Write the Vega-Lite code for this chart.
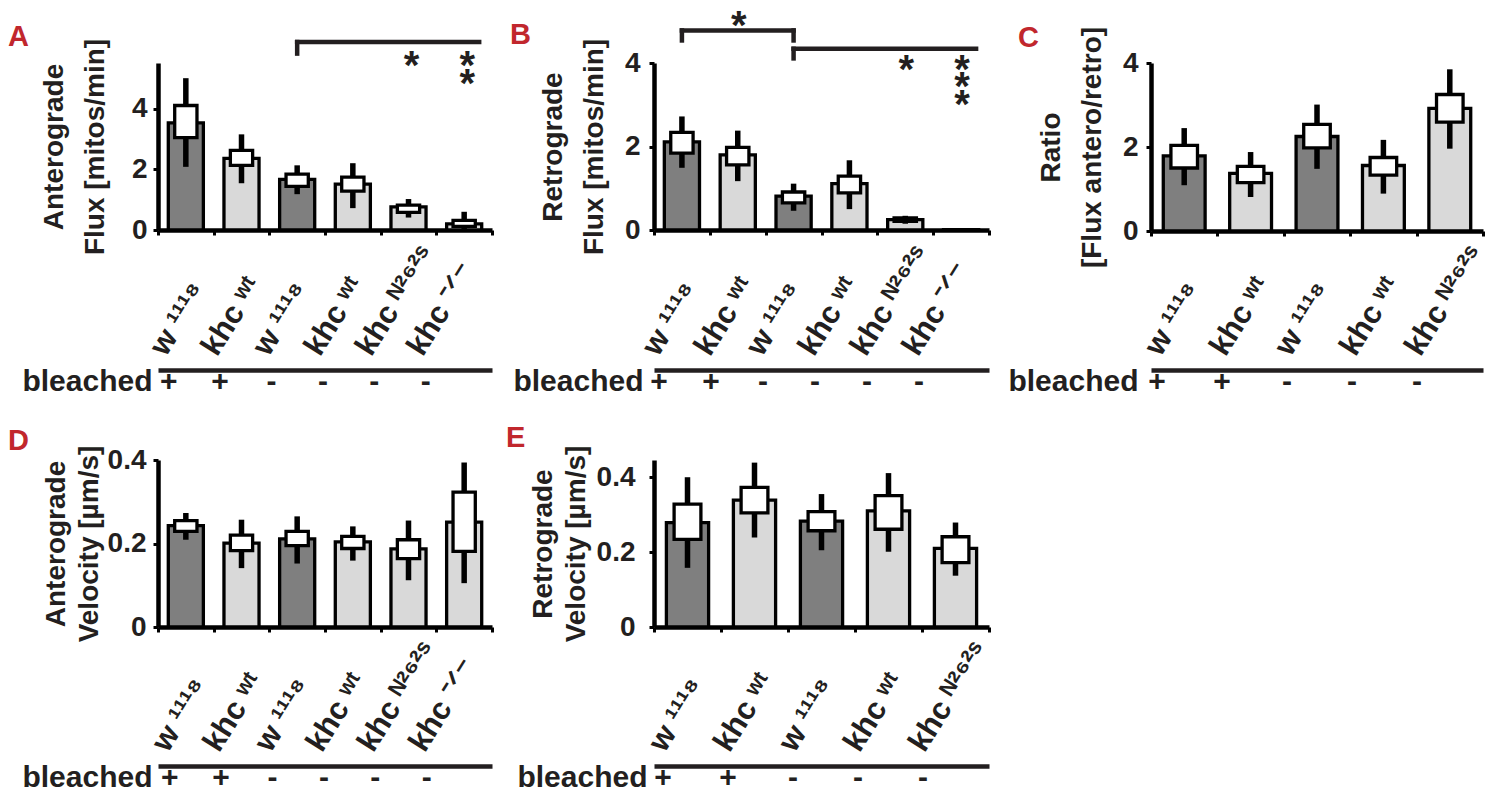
{
  "$schema": "https://vega.github.io/schema/vega-lite/v6.json",
  "background": "white",
  "padding": {"left": 8, "top": 7, "right": 5, "bottom": 0},
  "columns": 3,
  "bounds": "flush",
  "align": "each",
  "spacing": {"row": 60, "column": 162},
  "datasets": {
    "A": [
      {"group": "w ¹¹¹⁸|+", "strain": "w1118", "bleached": "+", "mean": 3.53, "box_lo": 3.04, "box_hi": 4.10, "err_lo": 2.08, "err_hi": 5.00},
      {"group": "khc ʷᵗ|+", "strain": "khc", "bleached": "+", "mean": 2.36, "box_lo": 2.13, "box_hi": 2.62, "err_lo": 1.54, "err_hi": 3.15},
      {"group": "w ¹¹¹⁸|-", "strain": "w1118", "bleached": "-", "mean": 1.67, "box_lo": 1.44, "box_hi": 1.84, "err_lo": 1.18, "err_hi": 2.13},
      {"group": "khc ʷᵗ|-", "strain": "khc", "bleached": "-", "mean": 1.51, "box_lo": 1.28, "box_hi": 1.74, "err_lo": 0.72, "err_hi": 2.20},
      {"group": "khc ᴺ²⁶²ˢ|-", "strain": "khc", "bleached": "-", "mean": 0.76, "box_lo": 0.58, "box_hi": 0.82, "err_lo": 0.41, "err_hi": 1.02},
      {"group": "khc ⁻ᐟ⁻|-", "strain": "khc", "bleached": "-", "mean": 0.20, "box_lo": 0.12, "box_hi": 0.32, "err_lo": 0.00, "err_hi": 0.60}
    ],
    "B": [
      {"group": "w ¹¹¹⁸|+", "strain": "w1118", "bleached": "+", "mean": 2.11, "box_lo": 1.84, "box_hi": 2.34, "err_lo": 1.49, "err_hi": 2.72},
      {"group": "khc ʷᵗ|+", "strain": "khc", "bleached": "+", "mean": 1.80, "box_lo": 1.56, "box_hi": 1.98, "err_lo": 1.17, "err_hi": 2.38},
      {"group": "w ¹¹¹⁸|-", "strain": "w1118", "bleached": "-", "mean": 0.81, "box_lo": 0.65, "box_hi": 0.91, "err_lo": 0.46, "err_hi": 1.11},
      {"group": "khc ʷᵗ|-", "strain": "khc", "bleached": "-", "mean": 1.11, "box_lo": 0.89, "box_hi": 1.29, "err_lo": 0.50, "err_hi": 1.67},
      {"group": "khc ᴺ²⁶²ˢ|-", "strain": "khc", "bleached": "-", "mean": 0.25, "box_lo": 0.21, "box_hi": 0.29, "err_lo": 0.15, "err_hi": 0.34},
      {"group": "khc ⁻ᐟ⁻|-", "strain": "khc", "bleached": "-", "mean": 0.01, "box_lo": null, "box_hi": null, "err_lo": null, "err_hi": null}
    ],
    "C": [
      {"group": "w ¹¹¹⁸|+", "strain": "w1118", "bleached": "+", "mean": 1.79, "box_lo": 1.50, "box_hi": 2.04, "err_lo": 1.09, "err_hi": 2.45},
      {"group": "khc ʷᵗ|+", "strain": "khc", "bleached": "+", "mean": 1.37, "box_lo": 1.15, "box_hi": 1.54, "err_lo": 0.81, "err_hi": 1.88},
      {"group": "w ¹¹¹⁸|-", "strain": "w1118", "bleached": "-", "mean": 2.25, "box_lo": 1.98, "box_hi": 2.54, "err_lo": 1.48, "err_hi": 3.01},
      {"group": "khc ʷᵗ|-", "strain": "khc", "bleached": "-", "mean": 1.56, "box_lo": 1.33, "box_hi": 1.75, "err_lo": 0.89, "err_hi": 2.17},
      {"group": "khc ᴺ²⁶²ˢ|-", "strain": "khc", "bleached": "-", "mean": 2.92, "box_lo": 2.59, "box_hi": 3.25, "err_lo": 1.96, "err_hi": 3.85}
    ],
    "D": [
      {"group": "w ¹¹¹⁸|+", "strain": "w1118", "bleached": "+", "mean": 0.243, "box_lo": 0.229, "box_hi": 0.255, "err_lo": 0.209, "err_hi": 0.273},
      {"group": "khc ʷᵗ|+", "strain": "khc", "bleached": "+", "mean": 0.201, "box_lo": 0.183, "box_hi": 0.220, "err_lo": 0.141, "err_hi": 0.257},
      {"group": "w ¹¹¹⁸|-", "strain": "w1118", "bleached": "-", "mean": 0.211, "box_lo": 0.195, "box_hi": 0.229, "err_lo": 0.152, "err_hi": 0.265},
      {"group": "khc ʷᵗ|-", "strain": "khc", "bleached": "-", "mean": 0.204, "box_lo": 0.188, "box_hi": 0.217, "err_lo": 0.159, "err_hi": 0.241},
      {"group": "khc ᴺ²⁶²ˢ|-", "strain": "khc", "bleached": "-", "mean": 0.187, "box_lo": 0.164, "box_hi": 0.209, "err_lo": 0.112, "err_hi": 0.255},
      {"group": "khc ⁻ᐟ⁻|-", "strain": "khc", "bleached": "-", "mean": 0.251, "box_lo": 0.181, "box_hi": 0.323, "err_lo": 0.105, "err_hi": 0.394}
    ],
    "E": [
      {"group": "w ¹¹¹⁸|+", "strain": "w1118", "bleached": "+", "mean": 0.279, "box_lo": 0.234, "box_hi": 0.328, "err_lo": 0.158, "err_hi": 0.400},
      {"group": "khc ʷᵗ|+", "strain": "khc", "bleached": "+", "mean": 0.339, "box_lo": 0.305, "box_hi": 0.373, "err_lo": 0.239, "err_hi": 0.439},
      {"group": "w ¹¹¹⁸|-", "strain": "w1118", "bleached": "-", "mean": 0.283, "box_lo": 0.257, "box_hi": 0.308, "err_lo": 0.205, "err_hi": 0.355},
      {"group": "khc ʷᵗ|-", "strain": "khc", "bleached": "-", "mean": 0.310, "box_lo": 0.261, "box_hi": 0.351, "err_lo": 0.201, "err_hi": 0.411},
      {"group": "khc ᴺ²⁶²ˢ|-", "strain": "khc", "bleached": "-", "mean": 0.210, "box_lo": 0.172, "box_hi": 0.241, "err_lo": 0.137, "err_hi": 0.279}
    ]
  },
  "concat": [
    {
      "width": 334, "height": 167,
      "title": {"text": "A", "dx": -150, "dy": 18},
      "layer": [
        {
          "data": {"name": "A"},
          "mark": {"type": "bar", "stroke": "#000", "strokeWidth": 3.3, "width": {"band": 0.63}},
          "encoding": {
            "x": {"field": "group", "type": "nominal", "scale": {"type": "band", "domain": ["w ¹¹¹⁸|+", "khc ʷᵗ|+", "w ¹¹¹⁸|-", "khc ʷᵗ|-", "khc ᴺ²⁶²ˢ|-", "khc ⁻ᐟ⁻|-"], "paddingInner": 0, "paddingOuter": 0},
              "axis": {"title": null, "labels": false, "tickBand": "extent"}},
            "y": {"field": "mean", "type": "quantitative", "scale": {"domain": [0, 5.5], "nice": false}, "axis": {"title": ["Anterograde", "Flux [mitos/min]"], "values": [0, 2, 4], "format": "d", "titleLineHeight": 41, "titlePadding": 22, "labelPadding": 6}},
            "color": {"field": "strain", "type": "nominal", "scale": {"domain": ["w1118", "khc"], "range": ["#7f7f7f", "#d9d9d9"]}, "legend": null}
          }
        },
        {
          "data": {"name": "A"},
          "mark": {"type": "rule", "color": "#000", "strokeWidth": 5.5},
          "encoding": {"x": {"field": "group", "type": "nominal"}, "y": {"field": "err_lo", "type": "quantitative"}, "y2": {"field": "err_hi"}}
        },
        {
          "data": {"name": "A"},
          "mark": {"type": "bar", "fill": "#fff", "stroke": "#000", "strokeWidth": 3.3, "width": {"band": 0.4}},
          "encoding": {"x": {"field": "group", "type": "nominal"}, "y": {"field": "box_lo", "type": "quantitative"}, "y2": {"field": "box_hi"}}
        },
        {
          "data": {"values": [{"from": "w ¹¹¹⁸|-", "to": "khc ⁻ᐟ⁻|-", "level": 6.19}]},
          "mark": {"type": "rule", "color": "#231f20", "strokeWidth": 4.5, "strokeCap": "square", "x2Offset": 15},
          "encoding": {"x": {"field": "from", "type": "nominal"}, "x2": {"field": "to"}, "y": {"field": "level", "type": "quantitative"}}
        },
        {
          "data": {"values": [{"group": "w ¹¹¹⁸|-", "top": 6.19, "bottom": 5.81}]},
          "mark": {"type": "rule", "color": "#231f20", "strokeWidth": 4.5, "strokeCap": "square"},
          "encoding": {"x": {"field": "group", "type": "nominal"}, "y": {"field": "top", "type": "quantitative"}, "y2": {"field": "bottom"}}
        },
        {
          "data": {"values": [{"group": "khc ᴺ²⁶²ˢ|-", "level": 5.71, "label": "*"}, {"group": "khc ⁻ᐟ⁻|-", "level": 5.71, "label": "*"}, {"group": "khc ⁻ᐟ⁻|-", "level": 5.12, "label": "*"}]},
          "mark": {"type": "text", "fontSize": 40, "fontWeight": "bold", "color": "#231f20", "baseline": "alphabetic", "dy": 22, "dx": 3},
          "encoding": {"x": {"field": "group", "type": "nominal"}, "y": {"field": "level", "type": "quantitative"}, "text": {"field": "label"}}
        }
      ]
    },
    {
      "width": 335, "height": 167,
      "title": {"text": "B", "dx": -144, "dy": 47},
      "layer": [
        {
          "data": {"name": "B"},
          "mark": {"type": "bar", "stroke": "#000", "strokeWidth": 3.3, "width": {"band": 0.63}},
          "encoding": {
            "x": {"field": "group", "type": "nominal", "scale": {"type": "band", "domain": ["w ¹¹¹⁸|+", "khc ʷᵗ|+", "w ¹¹¹⁸|-", "khc ʷᵗ|-", "khc ᴺ²⁶²ˢ|-", "khc ⁻ᐟ⁻|-"], "paddingInner": 0, "paddingOuter": 0},
              "axis": {"title": null, "labels": false, "tickBand": "extent"}},
            "y": {"field": "mean", "type": "quantitative", "scale": {"domain": [0, 4], "nice": false}, "axis": {"title": ["Retrograde", "Flux [mitos/min]"], "values": [0, 2, 4], "format": "d", "titleLineHeight": 41, "titlePadding": 16, "labelPadding": 9}},
            "color": {"field": "strain", "type": "nominal", "scale": {"domain": ["w1118", "khc"], "range": ["#7f7f7f", "#d9d9d9"]}, "legend": null}
          }
        },
        {
          "data": {"name": "B"},
          "mark": {"type": "rule", "color": "#000", "strokeWidth": 5.5},
          "encoding": {"x": {"field": "group", "type": "nominal"}, "y": {"field": "err_lo", "type": "quantitative"}, "y2": {"field": "err_hi"}}
        },
        {
          "data": {"name": "B"},
          "mark": {"type": "bar", "fill": "#fff", "stroke": "#000", "strokeWidth": 3.3, "width": {"band": 0.4}},
          "encoding": {"x": {"field": "group", "type": "nominal"}, "y": {"field": "box_lo", "type": "quantitative"}, "y2": {"field": "box_hi"}}
        },
        {
          "data": {"values": [{"from": "w ¹¹¹⁸|+", "to": "w ¹¹¹⁸|-", "level": 4.78}]},
          "mark": {"type": "rule", "color": "#231f20", "strokeWidth": 4.5, "strokeCap": "square"},
          "encoding": {"x": {"field": "from", "type": "nominal"}, "x2": {"field": "to"}, "y": {"field": "level", "type": "quantitative"}}
        },
        {
          "data": {"values": [{"from": "w ¹¹¹⁸|-", "to": "khc ⁻ᐟ⁻|-", "level": 4.34}]},
          "mark": {"type": "rule", "color": "#231f20", "strokeWidth": 4.5, "strokeCap": "square", "x2Offset": 15},
          "encoding": {"x": {"field": "from", "type": "nominal"}, "x2": {"field": "to"}, "y": {"field": "level", "type": "quantitative"}}
        },
        {
          "data": {"values": [{"group": "w ¹¹¹⁸|+", "top": 4.78, "bottom": 4.54}, {"group": "w ¹¹¹⁸|-", "top": 4.78, "bottom": 4.54}, {"group": "w ¹¹¹⁸|-", "top": 4.34, "bottom": 4.11}]},
          "mark": {"type": "rule", "color": "#231f20", "strokeWidth": 4.5, "strokeCap": "square"},
          "encoding": {"x": {"field": "group", "type": "nominal"}, "y": {"field": "top", "type": "quantitative"}, "y2": {"field": "bottom"}}
        },
        {
          "data": {"values": [{"group": "khc ʷᵗ|+", "level": 5.09, "label": "*"}, {"group": "khc ᴺ²⁶²ˢ|-", "level": 4.04, "label": "*"}, {"group": "khc ⁻ᐟ⁻|-", "level": 4.04, "label": "*"}, {"group": "khc ⁻ᐟ⁻|-", "level": 3.63, "label": "*"}, {"group": "khc ⁻ᐟ⁻|-", "level": 3.22, "label": "*"}]},
          "mark": {"type": "text", "fontSize": 40, "fontWeight": "bold", "color": "#231f20", "baseline": "alphabetic", "dy": 22, "dx": 1},
          "encoding": {"x": {"field": "group", "type": "nominal"}, "y": {"field": "level", "type": "quantitative"}, "text": {"field": "label"}}
        }
      ]
    },
    {
      "width": 332, "height": 168,
      "title": {"text": "C", "dx": -133, "dy": 31},
      "layer": [
        {
          "data": {"name": "C"},
          "mark": {"type": "bar", "stroke": "#000", "strokeWidth": 3.3, "width": {"band": 0.63}},
          "encoding": {
            "x": {"field": "group", "type": "nominal", "scale": {"type": "band", "domain": ["w ¹¹¹⁸|+", "khc ʷᵗ|+", "w ¹¹¹⁸|-", "khc ʷᵗ|-", "khc ᴺ²⁶²ˢ|-"], "paddingInner": 0, "paddingOuter": 0},
              "axis": {"title": null, "labels": false, "tickBand": "extent"}},
            "y": {"field": "mean", "type": "quantitative", "scale": {"domain": [0, 4], "nice": false}, "axis": {"title": ["Ratio", "[Flux antero/retro]"], "values": [0, 2, 4], "format": "d", "titleLineHeight": 41, "titlePadding": 16, "labelPadding": 8}},
            "color": {"field": "strain", "type": "nominal", "scale": {"domain": ["w1118", "khc"], "range": ["#7f7f7f", "#d9d9d9"]}, "legend": null}
          }
        },
        {
          "data": {"name": "C"},
          "mark": {"type": "rule", "color": "#000", "strokeWidth": 5.5},
          "encoding": {"x": {"field": "group", "type": "nominal"}, "y": {"field": "err_lo", "type": "quantitative"}, "y2": {"field": "err_hi"}}
        },
        {
          "data": {"name": "C"},
          "mark": {"type": "bar", "fill": "#fff", "stroke": "#000", "strokeWidth": 3.3, "width": {"band": 0.4}},
          "encoding": {"x": {"field": "group", "type": "nominal"}, "y": {"field": "box_lo", "type": "quantitative"}, "y2": {"field": "box_hi"}}
        }
      ]
    },
    {
      "width": 334, "height": 109,
      "data": {"name": "A"},
      "mark": {"type": "text", "fontSize": 30, "fontWeight": "bold", "color": "#231f20", "dx": -15, "baseline": "middle"},
      "encoding": {
        "x": {"field": "group", "type": "nominal", "scale": {"type": "band", "domain": ["w ¹¹¹⁸|+", "khc ʷᵗ|+", "w ¹¹¹⁸|-", "khc ʷᵗ|-", "khc ᴺ²⁶²ˢ|-", "khc ⁻ᐟ⁻|-"], "paddingInner": 0, "paddingOuter": 0.249, "align": 0},
          "axis": {"orient": "top", "offset": -79, "title": null, "ticks": false, "tickSize": 0, "domainColor": "#231f20", "labelExpr": "split(datum.label, '|')[0]", "labelAngle": -58, "labelAlign": "left", "labelBaseline": "alphabetic", "labelPadding": 13, "labelOffset": -18, "labelFontSize": 31, "labelOverlap": false, "labelFlush": false, "labelBound": false}},
        "y": {"datum": "bleached", "type": "nominal", "scale": {"type": "band", "paddingInner": 0, "paddingOuter": 1.317, "align": 1}, "axis": {"title": null, "domain": false, "ticks": false, "labelPadding": 6, "labelFontSize": 30}},
        "text": {"field": "bleached"}
      }
    },
    {
      "width": 335, "height": 109,
      "data": {"name": "B"},
      "mark": {"type": "text", "fontSize": 30, "fontWeight": "bold", "color": "#231f20", "dx": -21, "baseline": "middle"},
      "encoding": {
        "x": {"field": "group", "type": "nominal", "scale": {"type": "band", "domain": ["w ¹¹¹⁸|+", "khc ʷᵗ|+", "w ¹¹¹⁸|-", "khc ʷᵗ|-", "khc ᴺ²⁶²ˢ|-", "khc ⁻ᐟ⁻|-"], "paddingInner": 0, "paddingOuter": 0.221, "align": 0},
          "axis": {"orient": "top", "offset": -79, "title": null, "ticks": false, "tickSize": 0, "domainColor": "#231f20", "labelExpr": "split(datum.label, '|')[0]", "labelAngle": -58, "labelAlign": "left", "labelBaseline": "alphabetic", "labelPadding": 13, "labelOffset": -22, "labelFontSize": 31, "labelOverlap": false, "labelFlush": false, "labelBound": false}},
        "y": {"datum": "bleached", "type": "nominal", "scale": {"type": "band", "paddingInner": 0, "paddingOuter": 1.317, "align": 1}, "axis": {"title": null, "domain": false, "ticks": false, "labelPadding": 11, "labelFontSize": 30}},
        "text": {"field": "bleached"}
      }
    },
    {
      "width": 332, "height": 109,
      "data": {"name": "C"},
      "mark": {"type": "text", "fontSize": 30, "fontWeight": "bold", "color": "#231f20", "dx": -26.5, "baseline": "middle"},
      "encoding": {
        "x": {"field": "group", "type": "nominal", "scale": {"type": "band", "domain": ["w ¹¹¹⁸|+", "khc ʷᵗ|+", "w ¹¹¹⁸|-", "khc ʷᵗ|-", "khc ᴺ²⁶²ˢ|-"], "paddingInner": 0, "paddingOuter": 0.054, "align": 0},
          "axis": {"orient": "top", "offset": -79, "title": null, "ticks": false, "tickSize": 0, "domainColor": "#231f20", "labelExpr": "split(datum.label, '|')[0]", "labelAngle": -58, "labelAlign": "left", "labelBaseline": "alphabetic", "labelPadding": 13, "labelOffset": -23, "labelFontSize": 31, "labelOverlap": false, "labelFlush": false, "labelBound": false}},
        "y": {"datum": "bleached", "type": "nominal", "scale": {"type": "band", "paddingInner": 0, "paddingOuter": 1.317, "align": 1}, "axis": {"title": null, "domain": false, "ticks": false, "labelPadding": 13, "labelFontSize": 30}},
        "text": {"field": "bleached"}
      }
    },
    {
      "width": 334, "height": 167,
      "title": {"text": "D", "dx": -150, "dy": 15},
      "layer": [
        {
          "data": {"name": "D"},
          "mark": {"type": "bar", "stroke": "#000", "strokeWidth": 3.3, "width": {"band": 0.63}},
          "encoding": {
            "x": {"field": "group", "type": "nominal", "scale": {"type": "band", "domain": ["w ¹¹¹⁸|+", "khc ʷᵗ|+", "w ¹¹¹⁸|-", "khc ʷᵗ|-", "khc ᴺ²⁶²ˢ|-", "khc ⁻ᐟ⁻|-"], "paddingInner": 0, "paddingOuter": 0},
              "axis": {"title": null, "labels": false, "tickBand": "extent"}},
            "y": {"field": "mean", "type": "quantitative", "scale": {"domain": [0, 0.4], "nice": false}, "axis": {"title": ["Anterograde", "Velocity [µm/s]"], "values": [0, 0.2, 0.4], "format": "~g", "titleLineHeight": 33, "titlePadding": 4, "labelPadding": 7}},
            "color": {"field": "strain", "type": "nominal", "scale": {"domain": ["w1118", "khc"], "range": ["#7f7f7f", "#d9d9d9"]}, "legend": null}
          }
        },
        {
          "data": {"name": "D"},
          "mark": {"type": "rule", "color": "#000", "strokeWidth": 5.5},
          "encoding": {"x": {"field": "group", "type": "nominal"}, "y": {"field": "err_lo", "type": "quantitative"}, "y2": {"field": "err_hi"}}
        },
        {
          "data": {"name": "D"},
          "mark": {"type": "bar", "fill": "#fff", "stroke": "#000", "strokeWidth": 3.3, "width": {"band": 0.4}},
          "encoding": {"x": {"field": "group", "type": "nominal"}, "y": {"field": "box_lo", "type": "quantitative"}, "y2": {"field": "box_hi"}}
        }
      ]
    },
    {
      "width": 335, "height": 167,
      "title": {"text": "E", "dx": -148, "dy": 12},
      "layer": [
        {
          "data": {"name": "E"},
          "mark": {"type": "bar", "stroke": "#000", "strokeWidth": 3.3, "width": {"band": 0.63}},
          "encoding": {
            "x": {"field": "group", "type": "nominal", "scale": {"type": "band", "domain": ["w ¹¹¹⁸|+", "khc ʷᵗ|+", "w ¹¹¹⁸|-", "khc ʷᵗ|-", "khc ᴺ²⁶²ˢ|-"], "paddingInner": 0, "paddingOuter": 0},
              "axis": {"title": null, "labels": false, "tickBand": "extent"}},
            "y": {"field": "mean", "type": "quantitative", "scale": {"domain": [0, 0.446], "nice": false}, "axis": {"title": ["Retrograde", "Velocity [µm/s]"], "values": [0, 0.2, 0.4], "format": "~g", "titleLineHeight": 33, "titlePadding": 6, "labelPadding": 14}},
            "color": {"field": "strain", "type": "nominal", "scale": {"domain": ["w1118", "khc"], "range": ["#7f7f7f", "#d9d9d9"]}, "legend": null}
          }
        },
        {
          "data": {"name": "E"},
          "mark": {"type": "rule", "color": "#000", "strokeWidth": 5.5},
          "encoding": {"x": {"field": "group", "type": "nominal"}, "y": {"field": "err_lo", "type": "quantitative"}, "y2": {"field": "err_hi"}}
        },
        {
          "data": {"name": "E"},
          "mark": {"type": "bar", "fill": "#fff", "stroke": "#000", "strokeWidth": 3.3, "width": {"band": 0.4}},
          "encoding": {"x": {"field": "group", "type": "nominal"}, "y": {"field": "box_lo", "type": "quantitative"}, "y2": {"field": "box_hi"}}
        }
      ]
    },
    {
      "width": 10, "height": 10,
      "data": {"values": [{"blank": ""}]},
      "mark": {"type": "text", "opacity": 0},
      "encoding": {"text": {"field": "blank"}}
    },
    {
      "width": 334, "height": 109,
      "data": {"name": "D"},
      "mark": {"type": "text", "fontSize": 30, "fontWeight": "bold", "color": "#231f20", "dx": -14, "baseline": "middle"},
      "encoding": {
        "x": {"field": "group", "type": "nominal", "scale": {"type": "band", "domain": ["w ¹¹¹⁸|+", "khc ʷᵗ|+", "w ¹¹¹⁸|-", "khc ʷᵗ|-", "khc ᴺ²⁶²ˢ|-", "khc ⁻ᐟ⁻|-"], "paddingInner": 0, "paddingOuter": 0.249, "align": 0},
          "axis": {"orient": "top", "offset": -79, "title": null, "ticks": false, "tickSize": 0, "domainColor": "#231f20", "labelExpr": "split(datum.label, '|')[0]", "labelAngle": -58, "labelAlign": "left", "labelBaseline": "alphabetic", "labelPadding": 13, "labelOffset": -16, "labelFontSize": 31, "labelOverlap": false, "labelFlush": false, "labelBound": false}},
        "y": {"datum": "bleached", "type": "nominal", "scale": {"type": "band", "paddingInner": 0, "paddingOuter": 1.317, "align": 1}, "axis": {"title": null, "domain": false, "ticks": false, "labelPadding": 6, "labelFontSize": 30}},
        "text": {"field": "bleached"}
      }
    },
    {
      "width": 335, "height": 109,
      "data": {"name": "E"},
      "mark": {"type": "text", "fontSize": 30, "fontWeight": "bold", "color": "#231f20", "dx": -23.5, "baseline": "middle"},
      "encoding": {
        "x": {"field": "group", "type": "nominal", "scale": {"type": "band", "domain": ["w ¹¹¹⁸|+", "khc ʷᵗ|+", "w ¹¹¹⁸|-", "khc ʷᵗ|-", "khc ᴺ²⁶²ˢ|-"], "paddingInner": 0, "paddingOuter": 0.077, "align": 0},
          "axis": {"orient": "top", "offset": -79, "title": null, "ticks": false, "tickSize": 0, "domainColor": "#231f20", "labelExpr": "split(datum.label, '|')[0]", "labelAngle": -58, "labelAlign": "left", "labelBaseline": "alphabetic", "labelPadding": 13, "labelOffset": -22, "labelFontSize": 31, "labelOverlap": false, "labelFlush": false, "labelBound": false}},
        "y": {"datum": "bleached", "type": "nominal", "scale": {"type": "band", "paddingInner": 0, "paddingOuter": 1.317, "align": 1}, "axis": {"title": null, "domain": false, "ticks": false, "labelPadding": 7, "labelFontSize": 30}},
        "text": {"field": "bleached"}
      }
    }
  ],
  "config": {
    "font": "Liberation Sans",
    "view": {"stroke": null},
    "axis": {"domainColor": "#000", "domainWidth": 4.5, "tickColor": "#000", "tickWidth": 3, "tickSize": 5, "labelFont": "Liberation Sans", "labelFontSize": 28, "labelFontWeight": "bold", "labelColor": "#231f20", "titleFont": "Liberation Sans", "titleFontSize": 28, "titleFontWeight": "bold", "titleColor": "#231f20", "grid": false},
    "title": {"anchor": "start", "frame": "group", "color": "#c1272d", "fontSize": 29, "fontWeight": "bold", "font": "Liberation Sans", "offset": 0}
  }
}
